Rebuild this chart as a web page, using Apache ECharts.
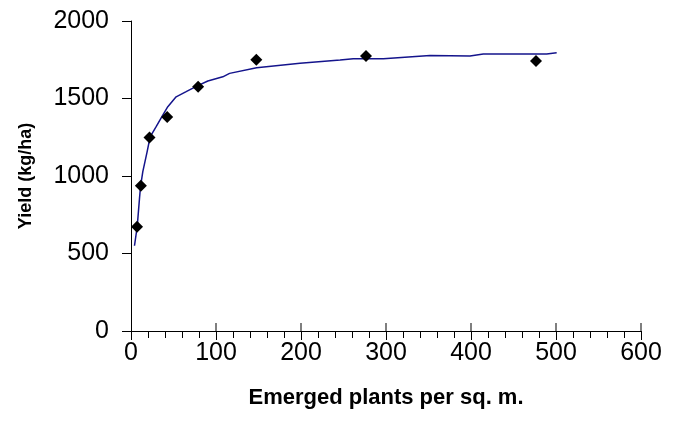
<!DOCTYPE html>
<html>
<head>
<meta charset="utf-8">
<script src="https://cdn.jsdelivr.net/npm/echarts@6/dist/echarts.min.js"></script>
<style>
  html, body { margin: 0; padding: 0; background: #fff; }
  #chart { width: 680px; height: 435px; }
</style>
</head>
<body>
<div id="chart"></div>
<script>
// 观测点
var plantsX = [7.1, 11.6, 21.8, 42.6, 79, 147.4, 276.5, 476.5];
var yieldY = [673, 937, 1249, 1380, 1576, 1750, 1774, 1742];

// 拟合曲线
var curveX = [4.1, 7.3, 10, 11.2, 13.9, 19, 22.5, 29.6, 37.4, 43.3, 53.1, 64.9, 78.6, 90.4, 108, 116, 147.8, 198.8, 246, 261.5, 296.9, 351.8, 398.8, 414.5, 489, 500.8];
var curveY = [550, 673, 856, 931, 1028, 1157, 1253, 1318, 1393, 1447, 1511, 1544, 1583, 1613, 1640, 1662, 1699, 1727, 1748, 1757, 1757, 1778, 1774, 1787, 1787, 1795];

var xTicks = [0, 100, 200, 300, 400, 500, 600];
var yTicks = [0, 500, 1000, 1500, 2000];

function pairs(xs, ys) {
  var out = [];
  for (var i = 0; i < xs.length; i++) {
    out.push([xs[i], ys[i]]);
  }
  return out;
}

function plain(v) {
  return String(v);
}

// 主刻度线向上的一半：在 y=0 处放细长矩形
function upTicks() {
  var out = [];
  for (var i = 1; i < xTicks.length; i++) {
    out.push([xTicks[i], yTicks[0]]);
  }
  return out;
}

var chart = echarts.init(document.getElementById("chart"));
var font = "Liberation Sans, Arial, sans-serif";

chart.setOption({
  animation: false,
  grid: { left: 131, right: 39, top: 21, bottom: 104 },
  xAxis: {
    type: "value",
    min: xTicks[0],
    max: xTicks[xTicks.length - 1],
    interval: 100,
    name: "Emerged plants per sq. m.",
    nameLocation: "middle",
    nameGap: 56,
    nameTextStyle: { fontFamily: font, fontSize: 22, fontWeight: "bold", color: "#000" },
    axisLine: { lineStyle: { color: "#000", width: 1 } },
    axisTick: { length: 9, lineStyle: { color: "#000" } },
    minorTick: { show: true, splitNumber: 5, length: 7, lineStyle: { color: "#000" } },
    axisLabel: { fontFamily: font, fontSize: 25, color: "#000", margin: 10, formatter: plain },
    splitLine: { show: false }
  },
  yAxis: {
    type: "value",
    min: yTicks[0],
    max: yTicks[yTicks.length - 1],
    interval: 500,
    name: "Yield (kg/ha)",
    nameLocation: "middle",
    nameGap: 96,
    nameTextStyle: { fontFamily: font, fontSize: 18, fontWeight: "bold", color: "#000" },
    axisLine: { show: true, lineStyle: { color: "#000", width: 1 } },
    axisTick: { show: true, length: 9, lineStyle: { color: "#000" } },
    axisLabel: { fontFamily: font, fontSize: 25, color: "#000", margin: 22, formatter: plain },
    splitLine: { show: false }
  },
  series: [
    {
      name: "fit",
      type: "line",
      data: pairs(curveX, curveY),
      showSymbol: false,
      smooth: false,
      lineStyle: { color: "#14148c", width: 1.5 },
      z: 2
    },
    {
      name: "obs",
      type: "scatter",
      data: pairs(plantsX, yieldY),
      symbol: "diamond",
      symbolSize: 12,
      itemStyle: { color: "#000", opacity: 1 },
      z: 3
    },
    {
      name: "upTicks",
      type: "scatter",
      data: upTicks(),
      symbol: "rect",
      symbolSize: [1, 8],
      symbolOffset: [0, -4],
      clip: false,
      silent: true,
      itemStyle: { color: "#000", opacity: 1 },
      emphasis: { disabled: true },
      z: 4
    }
  ]
});
</script>
</body>
</html>
